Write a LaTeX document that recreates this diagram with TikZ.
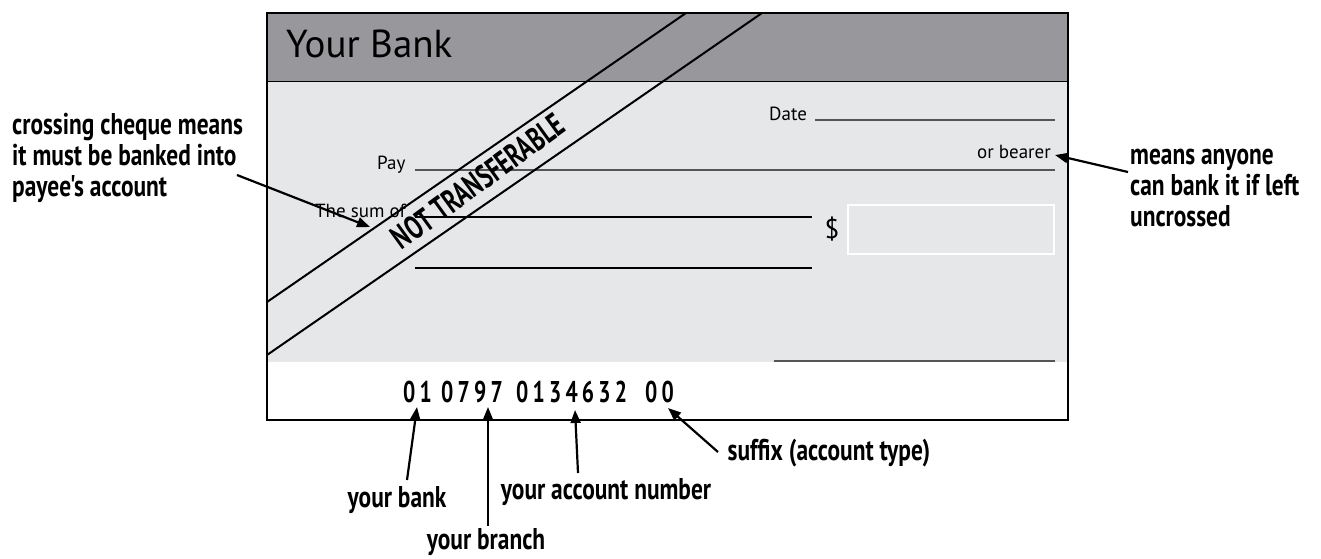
\documentclass[tikz,border=0pt]{standalone}
\usepackage{fontspec}
\setmainfont{PT Sans}
\newfontfamily\chq{PT Sans}
\newfontfamily\hand[FakeStretch=0.78]{PT Sans}
\newfontfamily\handn[FakeStretch=0.7]{PT Sans}
\newfontfamily\digitfont[FakeStretch=0.72,LetterSpace=14]{PT Sans}
\usetikzlibrary{arrows.meta}
\definecolor{headgray}{RGB}{152,151,156}
\definecolor{paper}{RGB}{230,231,232}
\definecolor{formline}{RGB}{85,85,85}
\begin{document}
\begin{tikzpicture}[x=1pt,y=-1pt,
  ann/.style={line width=2.2pt,-{Triangle[length=13pt,width=10pt]}},
  handtxt/.style={font=\hand\bfseries\fontsize{30}{31}\selectfont,inner sep=0pt,align=left},
  chqtxt/.style={font=\chq\fontsize{19}{22}\selectfont,inner sep=0pt},
  numtxt/.style={font=\digitfont\bfseries\fontsize{30}{32}\selectfont,inner sep=0pt,anchor=base west},
  fline/.style={line width=1.1pt,formline},
  diag/.style={line width=2pt,black}]
\useasboundingbox (0,0) rectangle (1321,558);
% cheque body
\fill[white] (267,13) rectangle (1068,420);
\fill[headgray] (267,13) rectangle (1068,81);
\fill[paper] (267,81) rectangle (1068,362);
\draw[line width=1pt] (267,81) -- (1068,81);
% form lines
\draw[fline] (815,120) -- (1055,120);
\draw[fline] (415,170) -- (1055,170);
\draw[line width=1.1pt] (415,217) -- (812,217);
\draw[line width=1.1pt] (415,268) -- (812,268);
\draw[fline] (774,361) -- (1055,361);
\draw[white,line width=2pt] (848,205) rectangle (1054,254);
% texts on cheque
\node[chqtxt,font=\chq\fontsize{39}{44}\selectfont,anchor=base west] (bank) at (286,57) {Your Bank};
\node[chqtxt,anchor=base west] (date) at (769,120) {Date};
\node[chqtxt,anchor=base west] (pay) at (377,169) {Pay};
\node[chqtxt,anchor=base west] (sum) at (315,217) {The sum of};
\node[chqtxt,anchor=base east] (bearer) at (1051,158) {or bearer};
\node[inner sep=0pt,font=\chq\fontsize{27}{30}\selectfont] (dollar) at (832,229) {\$};
% crossing
\coordinate (d1a) at (267,302);
\coordinate (d1b) at (686,13);
\coordinate (d2a) at (267,355);
\coordinate (d2b) at (762,13);
\draw[diag] (d1a) -- (d1b);
\draw[diag] (d2a) -- (d2b);
\node[font=\handn\bfseries\fontsize{33}{36}\selectfont,inner sep=0pt,rotate=36] (nt) at (478,181) {NOT TRANSFERABLE};
% numbers
\node[numtxt] (n1) at (403,402) {01};
\node[numtxt] (n2) at (441,402) {0797};
\node[numtxt] (n3) at (516,402) {0134632};
\node[numtxt] (n4) at (645,402) {00};
% border
\draw[line width=2pt] (267,13) rectangle (1068,420);
% annotations
\node[handtxt,anchor=west] (crossing) at (12,158) {crossing cheque means\\it must be banked into\\payee's account};
\node[handtxt,anchor=west] (anyone) at (1130,188) {means anyone\\can bank it if left\\uncrossed};
\node[handtxt] (lbank) at (397,500) {your bank};
\node[handtxt] (lbranch) at (486,542) {your branch};
\node[handtxt] (lacc) at (606,492) {your account number};
\node[handtxt] (lsuffix) at (829,453) {suffix (account type)};
\coordinate (crossTail) at (237,175);
\coordinate (crossTip) at (370,227);
\coordinate (bearTail) at (1128,172);
\coordinate (bearTip) at (1055,155);
\coordinate (bankTail) at (407,480);
\coordinate (bankTip) at (417,407);
\coordinate (brTail) at (488,526);
\coordinate (brTip) at (488,407);
\coordinate (accTail) at (578,473);
\coordinate (accTip) at (575,410);
\coordinate (sufTail) at (718,452);
\coordinate (sufTip) at (668,408);
\draw[ann] (crossTail) -- (crossTip);
\draw[ann] (bearTail) -- (bearTip);
\draw[ann] (bankTail) -- (bankTip);
\draw[ann] (brTail) -- (brTip);
\draw[ann] (accTail) -- (accTip);
\draw[ann] (sufTail) -- (sufTip);
\end{tikzpicture}
\end{document}
